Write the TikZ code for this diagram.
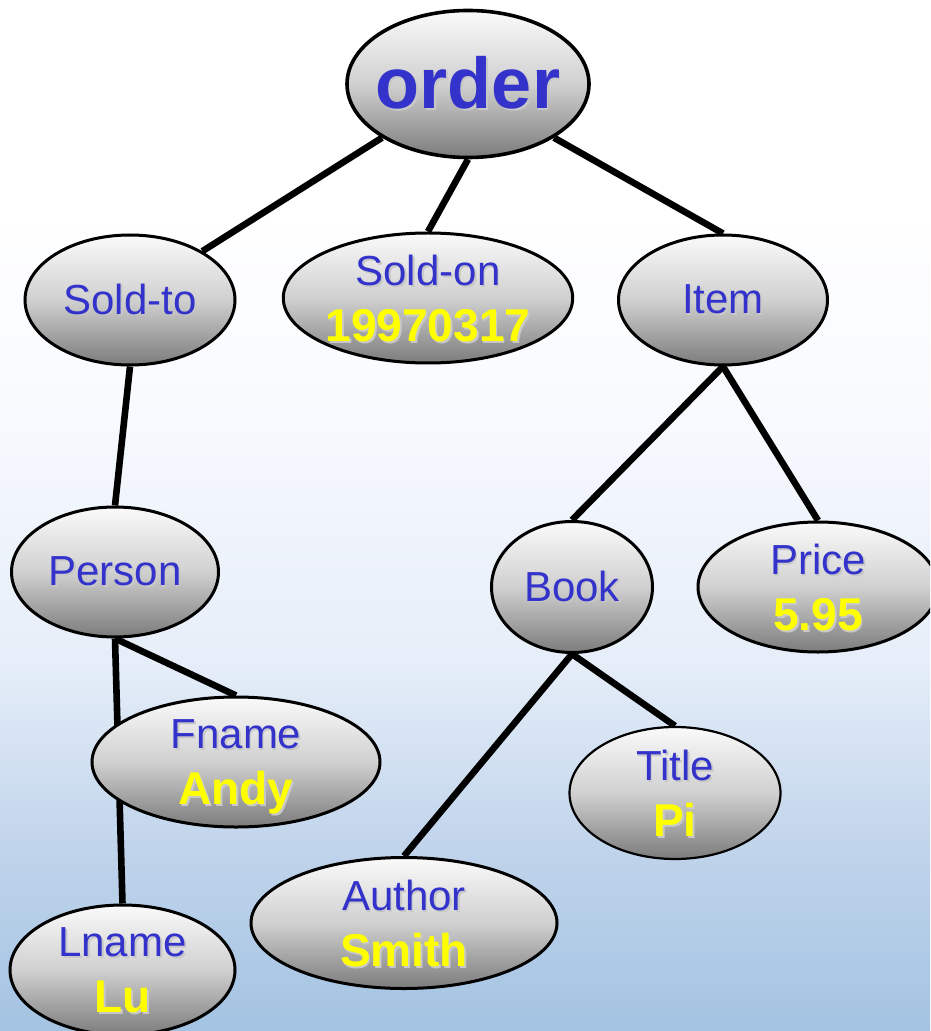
\documentclass[tikz,border=0pt]{standalone}
\usepackage{fontspec}
\setmainfont{Liberation Sans}
\usetikzlibrary{shapes.geometric}

\definecolor{lblblue}{RGB}{51,51,204}
\definecolor{valyellow}{RGB}{255,255,0}
\definecolor{txtshadow}{RGB}{200,200,200}
\definecolor{bgA}{RGB}{163,195,226}
\definecolor{bgB}{RGB}{192,212,235}
\definecolor{bgC}{RGB}{230,238,249}
\definecolor{bgD}{RGB}{248,250,254}
\definecolor{ellTop}{RGB}{250,250,250}
\definecolor{ellMid}{RGB}{208,208,208}
\definecolor{ellBot}{RGB}{124,124,124}

% page background: white at the top fading into light blue at the bottom
\pgfdeclareverticalshading{bgshade}{100bp}{color(0bp)=(bgA); color(25bp)=(bgA); color(33.8bp)=(bgB); color(43bp)=(bgC); color(55.6bp)=(bgD); color(65bp)=(white); color(100bp)=(white)}

\pgfdeclarelayer{back}
\pgfdeclarelayer{links}
\pgfsetlayers{back,links,main}

% text with a soft grey drop shadow
\newcommand\shadowtext[2]{\leavevmode\rlap{\kern0.9pt\raisebox{-0.9pt}{\textcolor{txtshadow}{#2}}}\textcolor{#1}{#2}}
\newcommand\lbl[1]{{\fontsize{21}{28}\selectfont\shadowtext{lblblue}{#1}}}
\newcommand\val[1]{{\fontsize{23}{28}\selectfont\bfseries\raisebox{0pt}[\height][0pt]{\shadowtext{valyellow}{#1}}}}

\tikzset{
  field/.style={ellipse, draw=black, line width=1.5pt,
    top color=ellTop, bottom color=ellBot, middle color=ellMid,
    inner sep=0pt, align=center, font=\fontsize{21}{28}\selectfont},
  link/.style={line width=3.3pt}
}

\begin{document}
\begin{tikzpicture}[x=0.5pt, y=-0.5pt]
  \useasboundingbox (0,0) rectangle (930,1031);
  \clip (0,0) rectangle (930,1031);

  \begin{pgfonlayer}{back}
    \shade[shading=bgshade] (0,0) rectangle (930,1031);
  \end{pgfonlayer}

  % element nodes
  \node[field, line width=1.8pt, inner xsep=-10pt, inner ysep=-4pt,
        minimum width=121pt, minimum height=73.5pt] (order) at (468,84)
    {\shadowtext{lblblue}{\fontsize{36}{40}\selectfont\bfseries order}};
  \node[field, minimum width=105pt,   minimum height=65pt]   (soldto) at (130,300) {\lbl{Sold-to}};
  \node[field, minimum width=144.5pt, minimum height=65pt]   (soldon) at (428,298) {\lbl{Sold-on}\\\val{19970317}};
  \node[field, minimum width=104.5pt, minimum height=65pt]   (item)   at (723,300) {\lbl{Item}};
  \node[field, minimum width=103.5pt, minimum height=65pt]   (person) at (115,572) {\lbl{Person}};
  \node[field, minimum width=80.5pt,  minimum height=65.5pt] (book)   at (572,587) {\lbl{Book}};
  \node[field, minimum width=120pt,   minimum height=65pt]   (price)  at (818,587) {\lbl{Price}\\\val{5.95}};
  \node[field, minimum width=144pt,   minimum height=65pt]   (fname)  at (236,762) {\lbl{Fname}\\\val{Andy}};
  \node[field, line width=1.1pt, minimum width=105.5pt, minimum height=66pt] (title) at (675,793) {\lbl{Title}\\\val{Pi}};
  \node[field, minimum width=153pt,   minimum height=65.5pt] (author) at (404,923) {\lbl{Author}\\\val{Smith}};
  \node[field, minimum width=112.5pt, minimum height=65pt]   (lname)  at (122.5,970) {\lbl{Lname}\\\val{Lu}};

  % tree edges, kept behind the ellipses
  \begin{pgfonlayer}{links}
    \draw[link] (order.212)   -- (soldto.34);
    \draw[link] (order.south) -- (soldon.north);
    \draw[link] (order.-32)   -- (item.north);
    \draw[link] (soldto.south) -- (person.north);
    \draw[link] (item.south)  -- (book.north);
    \draw[link] (item.south)  -- (price.north);
    \draw[link] (person.south) -- (fname.north);
    \draw[link] (person.south) -- (lname.north);
    \draw[link] (book.south)  -- (author.north);
    \draw[link] (book.south)  -- (title.north);
  \end{pgfonlayer}
\end{tikzpicture}
\end{document}
